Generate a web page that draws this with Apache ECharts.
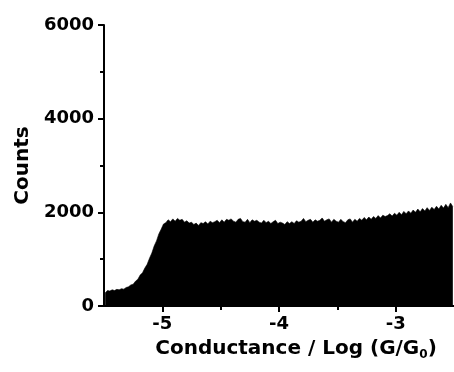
<!DOCTYPE html>
<html>
<head>
<meta charset="utf-8">
<script src="https://cdn.jsdelivr.net/npm/echarts@6/dist/echarts.min.js"></script>
<style>
  html, body { margin: 0; padding: 0; background: #fff; }
  #chart { width: 454px; height: 372px; }
</style>
</head>
<body>
<div id="chart"></div>
<script>
// Conductance histogram: 150 bins of 0.02 log(G/G0) starting at -5.5
const binStart = -5.5;
const binWidth = 0.02;
const counts = [
  280, 330, 320, 345, 330, 355, 345, 370, 360, 395,
  410, 450, 465, 530, 570, 660, 710, 810, 890, 1020,
  1130, 1280, 1390, 1540, 1640, 1750, 1780, 1840, 1800, 1860,
  1810, 1870, 1830, 1850, 1790, 1820, 1770, 1790, 1740, 1770,
  1720, 1780, 1760, 1800, 1750, 1810, 1780, 1800, 1830, 1780,
  1840, 1790, 1850, 1830, 1860, 1810, 1790, 1850, 1870, 1800,
  1790, 1850, 1780, 1840, 1810, 1830, 1790, 1770, 1830, 1780,
  1810, 1760, 1800, 1830, 1760, 1790, 1770, 1740, 1800, 1760,
  1800, 1760, 1820, 1790, 1810, 1870, 1800, 1830, 1850, 1790,
  1840, 1810, 1830, 1880, 1810, 1840, 1860, 1790, 1850, 1810,
  1790, 1850, 1800, 1780, 1840, 1860, 1790, 1850, 1810, 1870,
  1830, 1890, 1840, 1900, 1850, 1910, 1870, 1930, 1880, 1940,
  1910, 1930, 1970, 1920, 1980, 1940, 2000, 1950, 2020, 1970,
  2030, 1980, 2050, 2000, 2070, 2010, 2080, 2030, 2100, 2040,
  2110, 2060, 2130, 2070, 2150, 2090, 2170, 2100, 2200, 2120
];
const xMin = -5.5, xMax = -2.5;
const xTickValues = [-5, -4, -3];
const xMinorValues = [-4.5, -3.5];
const yMin = 0, yMax = 6000, yStep = 2000;

// one point per bin, placed at the bin centre
const points = counts.map((c, i) => [binStart + (i + 0.5) * binWidth, c]);

const FONT = 'DejaVu Sans';
const chart = echarts.init(document.getElementById('chart'), null, { renderer: 'canvas' });

const axisLine = { show: true, lineStyle: { color: '#000', width: 2 } };

chart.setOption({
  animation: false,
  backgroundColor: '#fff',
  grid: { left: 104, right: 0, top: 25, bottom: 66 },
  xAxis: [
    {
      type: 'value', min: xMin, max: xMax,
      axisLine: axisLine,
      axisTick: { show: true, inside: false, length: 6, customValues: xTickValues,
                  lineStyle: { color: '#000', width: 2 } },
      axisLabel: { customValues: xTickValues, margin: 9, color: '#000',
                   fontFamily: FONT, fontWeight: 'bold', fontSize: 18 },
      splitLine: { show: false },
      name: 'Conductance / Log (G/G{sub|0})',
      nameLocation: 'middle', nameGap: 31,
      nameTextStyle: {
        color: '#000', fontFamily: FONT, fontWeight: 'bold', fontSize: 20,
        padding: [0, 0, 0, 34],
        rich: { sub: { fontFamily: FONT, fontWeight: 'bold', fontSize: 12, color: '#000',
                       padding: [12, 0, 0, 0] } }
      }
    },
    {
      type: 'value', min: xMin, max: xMax, position: 'bottom',
      axisLine: { show: false },
      axisTick: { show: true, length: 4, customValues: xMinorValues,
                  lineStyle: { color: '#000', width: 2 } },
      axisLabel: { show: false },
      splitLine: { show: false }
    }
  ],
  yAxis: {
    type: 'value', min: yMin, max: yMax, interval: yStep,
    axisLine: axisLine,
    axisTick: { show: true, inside: false, length: 6, lineStyle: { color: '#000', width: 2 } },
    minorTick: { show: true, splitNumber: 2, length: 4, lineStyle: { color: '#000', width: 2 } },
    axisLabel: { margin: 10, color: '#000', fontFamily: FONT, fontWeight: 'bold', fontSize: 18,
                 formatter: v => String(v) },
    splitLine: { show: false },
    name: 'Counts', nameLocation: 'middle', nameGap: 59, nameRotate: 90,
    nameTextStyle: { color: '#000', fontFamily: FONT, fontWeight: 'bold', fontSize: 20 }
  },
  series: [{
    type: 'line',
    data: points,
    showSymbol: false,
    clip: true,
    lineStyle: { color: '#000', width: 0.6 },
    areaStyle: { color: '#000', opacity: 1 },
    z: 1
  }]
});
</script>
</body>
</html>
